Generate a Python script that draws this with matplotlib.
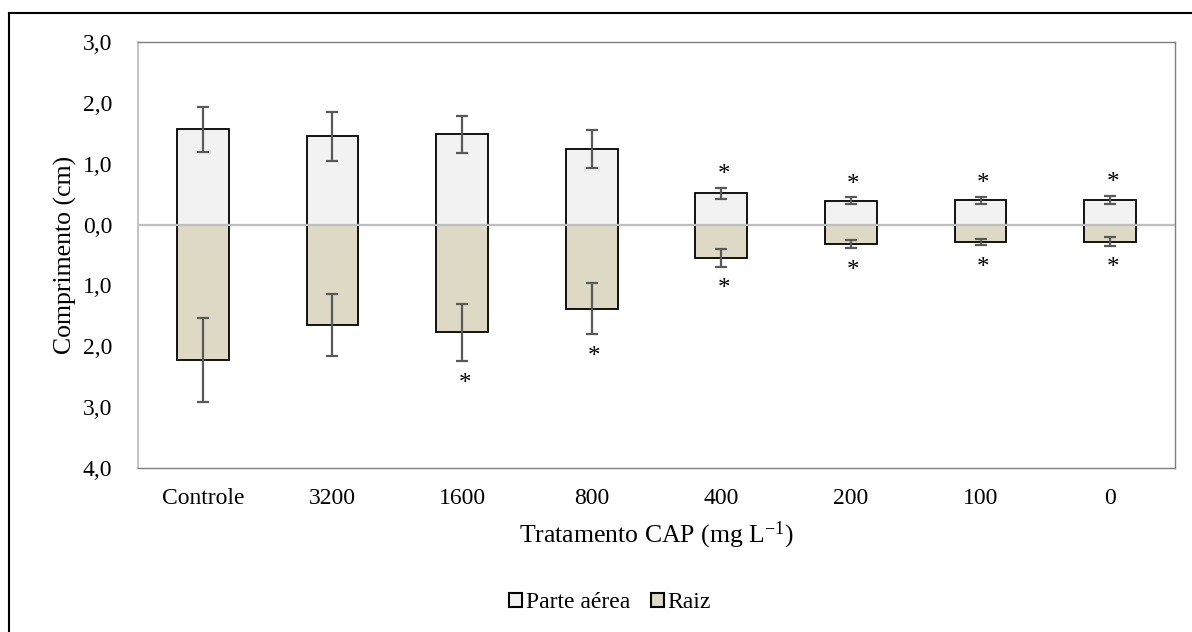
import matplotlib
matplotlib.use('Agg')
import matplotlib.pyplot as plt
import numpy as np
from matplotlib.patches import Patch
from matplotlib.lines import Line2D
from matplotlib.ticker import FixedLocator, FuncFormatter

plt.rcParams['font.family'] = ['Liberation Serif', 'DejaVu Serif']
plt.rcParams['mathtext.fontset'] = 'custom'
plt.rcParams['mathtext.rm'] = 'Liberation Serif'

# data
cats = ['Controle', '3200', '1600', '800', '400', '200', '100', '0']
aerea = [1.56, 1.45, 1.48, 1.24, 0.51, 0.39, 0.40, 0.40]
aerea_err = [0.37, 0.40, 0.30, 0.31, 0.095, 0.055, 0.055, 0.07]
raiz = [2.22, 1.65, 1.77, 1.38, 0.55, 0.32, 0.29, 0.28]
raiz_err = [0.69, 0.51, 0.47, 0.42, 0.145, 0.065, 0.05, 0.07]
star_aerea = [0, 0, 0, 0, 1, 1, 1, 1]
star_raiz = [0, 0, 1, 1, 1, 1, 1, 1]

fig = plt.figure(figsize=(11.92, 6.32), dpi=100)
ax = fig.add_axes([138/1192, 1-468.3/632, (1175-138)/1192, (468.3-41.7)/632])

x = np.arange(len(cats))
w = 0.40
c_aerea = '#F2F2F2'
c_raiz = '#DDD9C4'
ecol = '#595959'

ax.bar(x, aerea, w, color=c_aerea, edgecolor='black', linewidth=1.3, zorder=2)
ax.bar(x, [-v for v in raiz], w, color=c_raiz, edgecolor='black', linewidth=1.3, zorder=2)
ax.errorbar(x, aerea, yerr=aerea_err, fmt='none', ecolor=ecol, elinewidth=1.6,
            capsize=4.5, capthick=1.6, zorder=4)
ax.errorbar(x, [-v for v in raiz], yerr=raiz_err, fmt='none', ecolor=ecol, elinewidth=1.6,
            capsize=4.5, capthick=1.6, zorder=4)

ax.axhline(0, color='#BFBFBF', linewidth=1.6, zorder=3)

# significance marks
for i in range(len(cats)):
    if star_aerea[i]:
        ax.text(x[i] + 0.02, aerea[i] + aerea_err[i] + 0.21, '*', ha='center', va='center',
                fontsize=18, zorder=5)
    if star_raiz[i]:
        ax.text(x[i] + 0.02, -(raiz[i] + raiz_err[i] + 0.37), '*', ha='center', va='center',
                fontsize=18, zorder=5)

ax.set_xlim(-0.5, len(cats) - 0.5)
ax.set_ylim(-4, 3)
ax.yaxis.set_major_locator(FixedLocator(np.arange(-4, 3.5, 1)))
ax.yaxis.set_major_formatter(FuncFormatter(lambda v, p: ('%.1f' % abs(v)).replace('.', ',')))
ax.set_xticks(x)
ax.set_xticklabels(cats)
ax.tick_params(axis='both', length=0, labelsize=17, colors='black')
ax.tick_params(axis='x', pad=14.5)
ax.tick_params(axis='y', pad=18.5)

for s in ['top', 'right', 'bottom']:
    ax.spines[s].set_color('#7F7F7F')
    ax.spines[s].set_linewidth(1.0)
ax.spines['left'].set_color('#BFBFBF')
ax.spines['left'].set_linewidth(1.3)

ax.set_ylabel('Comprimento (cm)', fontsize=18.5, labelpad=4)
ax.set_xlabel('Tratamento CAP (mg L$\\mathregular{^{-1}}$)', fontsize=18.5, labelpad=7)

handles = [Patch(facecolor=c_aerea, edgecolor='black', linewidth=1.5, label='Parte aérea'),
           Patch(facecolor=c_raiz, edgecolor='black', linewidth=1.5, label='Raiz')]
fig.legend(handles=handles, loc='center', bbox_to_anchor=(610/1192, 1-603/632), ncol=2,
           frameon=False, fontsize=17, handlelength=0.55, handleheight=0.55,
           handletextpad=0.15, columnspacing=0.9)

# outer frame: only left and top edges fall inside the picture
fig.add_artist(Line2D([9/1192, 9/1192], [0, 1-13/632], transform=fig.transFigure,
                      color='black', linewidth=1.5))
fig.add_artist(Line2D([9/1192, 1], [1-13/632, 1-13/632], transform=fig.transFigure,
                      color='black', linewidth=1.5))

fig.savefig('out.png', dpi=100)
